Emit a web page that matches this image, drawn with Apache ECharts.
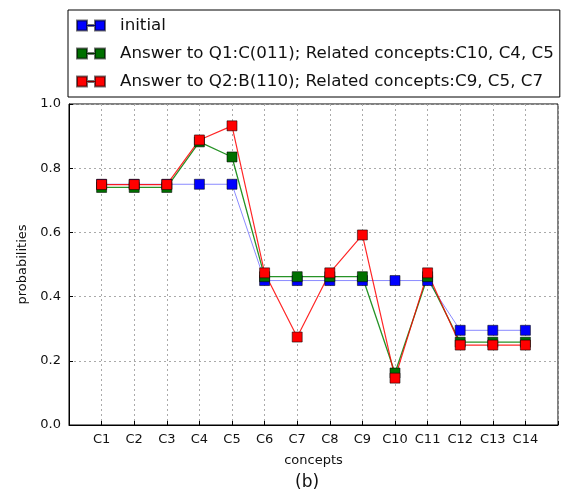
<!DOCTYPE html>
<html><head><meta charset="utf-8">
<script src="https://cdn.jsdelivr.net/npm/echarts@6/dist/echarts.min.js"></script>
<style>html,body{margin:0;padding:0;background:#fff}#c{width:562px;height:492px}</style>
</head><body><div id="c"></div>
<script>
const categories = ['C1','C2','C3','C4','C5','C6','C7','C8','C9','C10','C11','C12','C13','C14'];
const seriesNames = ['initial', 'Answer to Q1:C(011); Related concepts:C10, C4, C5', 'Answer to Q2:B(110); Related concepts:C9, C5, C7'];
const initialVals = [0.75,0.75,0.75,0.75,0.75,0.45,0.45,0.45,0.45,0.45,0.45,0.295,0.295,0.295];
const q1Vals = [0.74,0.74,0.74,0.882,0.835,0.462,0.462,0.462,0.462,0.162,0.462,0.258,0.258,0.258];
const q2Vals = [0.749,0.749,0.749,0.888,0.932,0.474,0.274,0.474,0.592,0.146,0.474,0.249,0.249,0.249];
const yTicks = [0.0,0.2,0.4,0.6,0.8,1.0];

const font = 'DejaVu Sans';
const toPts = vals => vals.map((v,i) => [i+1, v]);
const icon = 'path://M0,0h10v10h-10z M18,0h10v10h-10z M10,4.5h8v1h-8z';
function mk(name, vals, color, lineColor, lw){
  return {
    name, type:'line', data: toPts(vals), symbol:'rect', symbolSize:10,
    itemStyle:{color, borderColor:'rgba(0,0,0,0.55)', borderWidth:1},
    lineStyle:{color:lineColor, width:lw},
    emphasis:{disabled:true}, animation:false
  };
}
const chart = echarts.init(document.getElementById('c'), null, {renderer:'canvas'});
chart.setOption({
  animation:false,
  title:{text:'(b)', left:290, top:469, textStyle:{fontFamily:font, fontSize:17, fontWeight:'normal', color:'#111'}},
  legend:{
    orient:'vertical', left:68, top:10, icon, itemWidth:28, itemHeight:10, itemGap:11,
    borderColor:'#000', borderWidth:1, padding:[7,6,7,8], borderRadius:0,
    textStyle:{fontFamily:font, fontSize:16.7, color:'#111', padding:[0,0,0,10]},
    data: seriesNames.map((n,i)=>({name:n, icon}))
  },
  grid:{left:69, right:4, top:104, bottom:67, show:true, borderColor:'#000', borderWidth:1, containLabel:false},
  xAxis:{
    type:'value', min:0, max:categories.length+1, interval:1,
    name:'concepts', nameLocation:'middle', nameGap:29,
    nameTextStyle:{fontFamily:font, fontSize:13, color:'#111'},
    axisLine:{show:true, lineStyle:{color:'#000'}},
    axisTick:{show:true, inside:true, length:4, lineStyle:{color:'#000'}},
    axisLabel:{fontFamily:font, fontSize:13, color:'#111', margin:8,
      formatter: v => (v>=1 && v<=categories.length) ? categories[v-1] : ''},
    splitLine:{show:true, lineStyle:{color:'#aaa', type:[2,3], width:1}}
  },
  yAxis:{
    type:'value', min:0, max:1, interval:0.2,
    name:'probabilities', nameLocation:'middle', nameGap:40,
    nameTextStyle:{fontFamily:font, fontSize:13, color:'#111'},
    axisLine:{show:true, lineStyle:{color:'#000'}},
    axisTick:{show:true, inside:true, length:4, lineStyle:{color:'#000'}},
    axisLabel:{fontFamily:font, fontSize:13, color:'#111', margin:8,
      formatter: v => yTicks.find(t=>Math.abs(t-v)<1e-6).toFixed(1)},
    splitLine:{show:true, lineStyle:{color:'#aaa', type:[2,3], width:1}}
  },
  series:[
    mk(seriesNames[0], initialVals, '#0000ff', 'rgba(60,60,255,0.6)', 1),
    mk(seriesNames[1], q1Vals, '#007000', 'rgba(0,128,0,0.85)', 1.3),
    mk(seriesNames[2], q2Vals, '#ff0000', 'rgba(255,0,0,0.85)', 1.2)
  ]
});
</script></body></html>
